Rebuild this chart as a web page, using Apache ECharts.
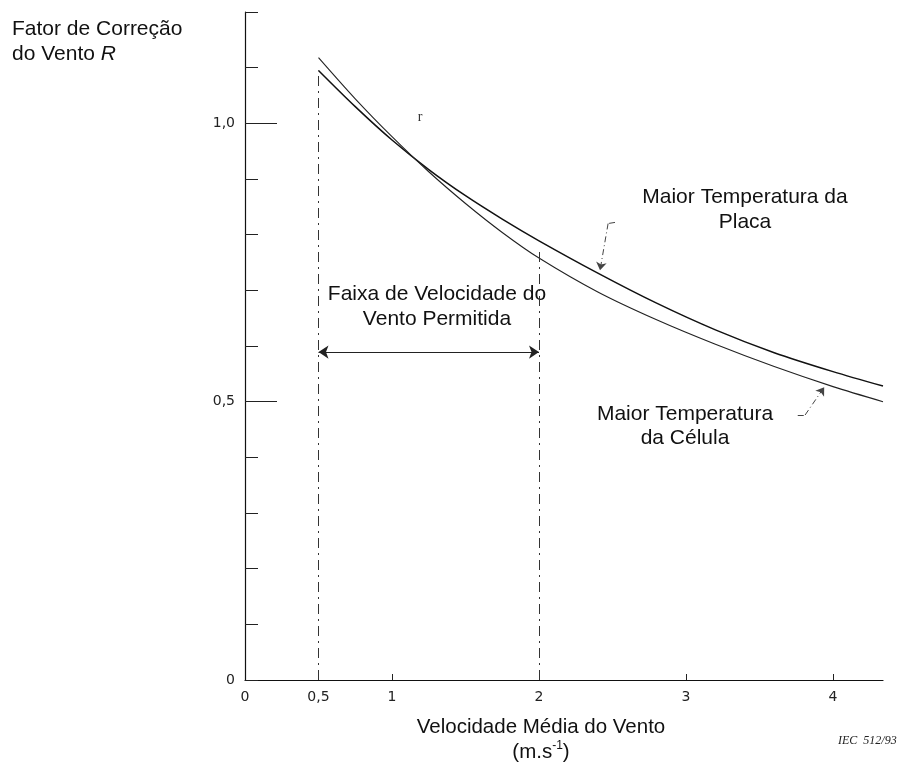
<!DOCTYPE html>
<html>
<head>
<meta charset="utf-8">
<script src="https://cdn.jsdelivr.net/npm/echarts@6/dist/echarts.min.js"></script>
<style>
html, body { margin: 0; padding: 0; background: #fff; }
#main { width: 921px; height: 766px; }
</style>
</head>
<body>
<div id="main"></div>
<script>
// ticks and labels
const xLabelValues = [0, 0.5, 1, 2, 3, 4]
const xTickValues = [1, 3, 4]
const yLabelValues = [0, 0.5, 1.0]
const yLongTickValues = [0.5, 1.0]

// curves
const speed = [0.5, 0.75, 1.0, 1.25, 1.5, 1.75, 2.0, 2.4, 2.8, 3.2, 3.6, 4.0, 4.34]
const placa = [1.095, 1.030, 0.970, 0.917, 0.870, 0.828, 0.789, 0.731, 0.677, 0.629, 0.588, 0.554, 0.528]
const celula = [1.118, 1.044, 0.976, 0.913, 0.856, 0.804, 0.758, 0.697, 0.647, 0.603, 0.563, 0.527, 0.500]

// permitted wind speed range
const rangeStart = 0.5
const rangeEnd = 2
const rangeArrowY = 0.589

const main = document.getElementById('main')
const myChart = echarts.init(main)

const font = 'Liberation Sans, Arial, sans-serif'
const tickFont = 'DejaVu Sans, sans-serif'
const comma = v => (v === 0 ? '0' : String(v).replace('.', ','))

const dashDot = { type: [10, 5, 2, 5], width: 1, color: '#333' }
const leader = { type: [6, 3, 1, 3], width: 1, color: '#444' }

myChart.setOption({
    backgroundColor: '#fff',
    animation: false,
    grid: { left: 245, right: 38, top: 12, bottom: 86, outerBoundsMode: 'none' },
    xAxis: {
        type: 'value',
        min: 0,
        max: 4.34,
        interval: 0.5,
        axisLine: { lineStyle: { color: '#111', width: 1.2 } },
        axisTick: { inside: true, length: 6, customValues: xTickValues, lineStyle: { color: '#222' } },
        axisLabel: {
            customValues: xLabelValues,
            formatter: comma,
            margin: 10,
            color: '#222',
            fontFamily: tickFont,
            fontSize: 14
        },
        splitLine: { show: false }
    },
    yAxis: [{
        type: 'value',
        min: 0,
        max: 1.2,
        interval: 0.1,
        axisLine: { lineStyle: { color: '#111', width: 1.2 } },
        axisTick: { inside: true, length: 13, lineStyle: { color: '#222' } },
        axisLabel: {
            customValues: yLabelValues,
            formatter: v => (v === 0 ? '0' : v.toFixed(1).replace('.', ',')),
            margin: 10,
            color: '#222',
            fontFamily: tickFont,
            fontSize: 14
        },
        splitLine: { show: false }
    }, {
        type: 'value',
        min: 0,
        max: 1.2,
        interval: 0.1,
        position: 'left',
        axisLine: { show: false },
        axisTick: { inside: true, length: 32, customValues: yLongTickValues, lineStyle: { color: '#222' } },
        axisLabel: { show: false },
        splitLine: { show: false }
    }],
    series: [{
        name: 'Maior Temperatura da Placa',
        type: 'line',
        smooth: 0.3,
        showSymbol: false,
        lineStyle: { color: '#111', width: 1.5 },
        data: speed.map((x, i) => [x, placa[i]]),
        markLine: {
            silent: true,
            symbol: 'none',
            symbolSize: 10,
            label: { show: false },
            data: [
                [{ coord: [rangeStart, 0], lineStyle: dashDot }, { coord: [rangeStart, placa[0]] }],
                [{ coord: [rangeEnd, 0], lineStyle: dashDot }, { coord: [rangeEnd, 0.772] }],
                [
                    { coord: [rangeStart, rangeArrowY], symbol: 'arrow', lineStyle: { color: '#222', width: 1.2, type: 'solid' } },
                    { coord: [rangeEnd, rangeArrowY], symbol: 'arrow' }
                ],
                [{ coord: [2.517, 0.822], lineStyle: leader }, { coord: [2.47, 0.820] }],
                [{ coord: [2.47, 0.820], lineStyle: leader }, { coord: [2.415, 0.736], symbol: 'arrow', symbolSize: 8 }],
                [{ coord: [3.76, 0.476], lineStyle: leader }, { coord: [3.81, 0.476] }],
                [{ coord: [3.81, 0.476], lineStyle: leader }, { coord: [3.94, 0.526], symbol: 'arrow', symbolSize: 8 }]
            ]
        }
    }, {
        name: 'Maior Temperatura da Célula',
        type: 'line',
        smooth: 0.3,
        showSymbol: false,
        lineStyle: { color: '#222', width: 1.1 },
        data: speed.map((x, i) => [x, celula[i]])
    }],
    graphic: [{
        type: 'text',
        x: 12,
        y: 42,
        style: {
            text: 'Fator de Correção\ndo Vento {i|R}',
            align: 'left',
            verticalAlign: 'middle',
            fill: '#111',
            font: '21px ' + font,
            lineHeight: 25,
            rich: { i: { fontStyle: 'italic', fontSize: 21, fontFamily: font, fill: '#111', lineHeight: 25 } }
        }
    }, {
        type: 'text',
        x: 541,
        y: 740,
        style: {
            text: 'Velocidade Média do Vento\n(m.s{sup|-1})',
            align: 'center',
            verticalAlign: 'middle',
            fill: '#111',
            font: '20.5px ' + font,
            lineHeight: 25,
            rich: { sup: { fontSize: 12, fontFamily: font, fill: '#111', verticalAlign: 'top', lineHeight: 25 } }
        }
    }, {
        type: 'text',
        x: 437,
        y: 307,
        style: {
            text: 'Faixa de Velocidade do\nVento Permitida',
            align: 'center',
            verticalAlign: 'middle',
            fill: '#111',
            font: '21px ' + font,
            lineHeight: 25
        }
    }, {
        type: 'text',
        x: 745,
        y: 210,
        style: {
            text: 'Maior Temperatura da\nPlaca',
            align: 'center',
            verticalAlign: 'middle',
            fill: '#111',
            font: '21px ' + font,
            lineHeight: 25
        }
    }, {
        type: 'text',
        x: 685,
        y: 426,
        style: {
            text: 'Maior Temperatura\nda Célula',
            align: 'center',
            verticalAlign: 'middle',
            fill: '#111',
            font: '21px ' + font,
            lineHeight: 24
        }
    }, {
        type: 'text',
        x: 838,
        y: 741,
        style: {
            text: 'IEC  512/93',
            align: 'left',
            verticalAlign: 'middle',
            fill: '#222',
            font: 'italic 12px Liberation Serif, serif'
        }
    }, {
        type: 'text',
        x: 420,
        y: 117,
        style: {
            text: 'r',
            align: 'center',
            verticalAlign: 'middle',
            fill: '#333',
            font: '14px Liberation Serif, serif'
        }
    }]
})
</script>
</body>
</html>
